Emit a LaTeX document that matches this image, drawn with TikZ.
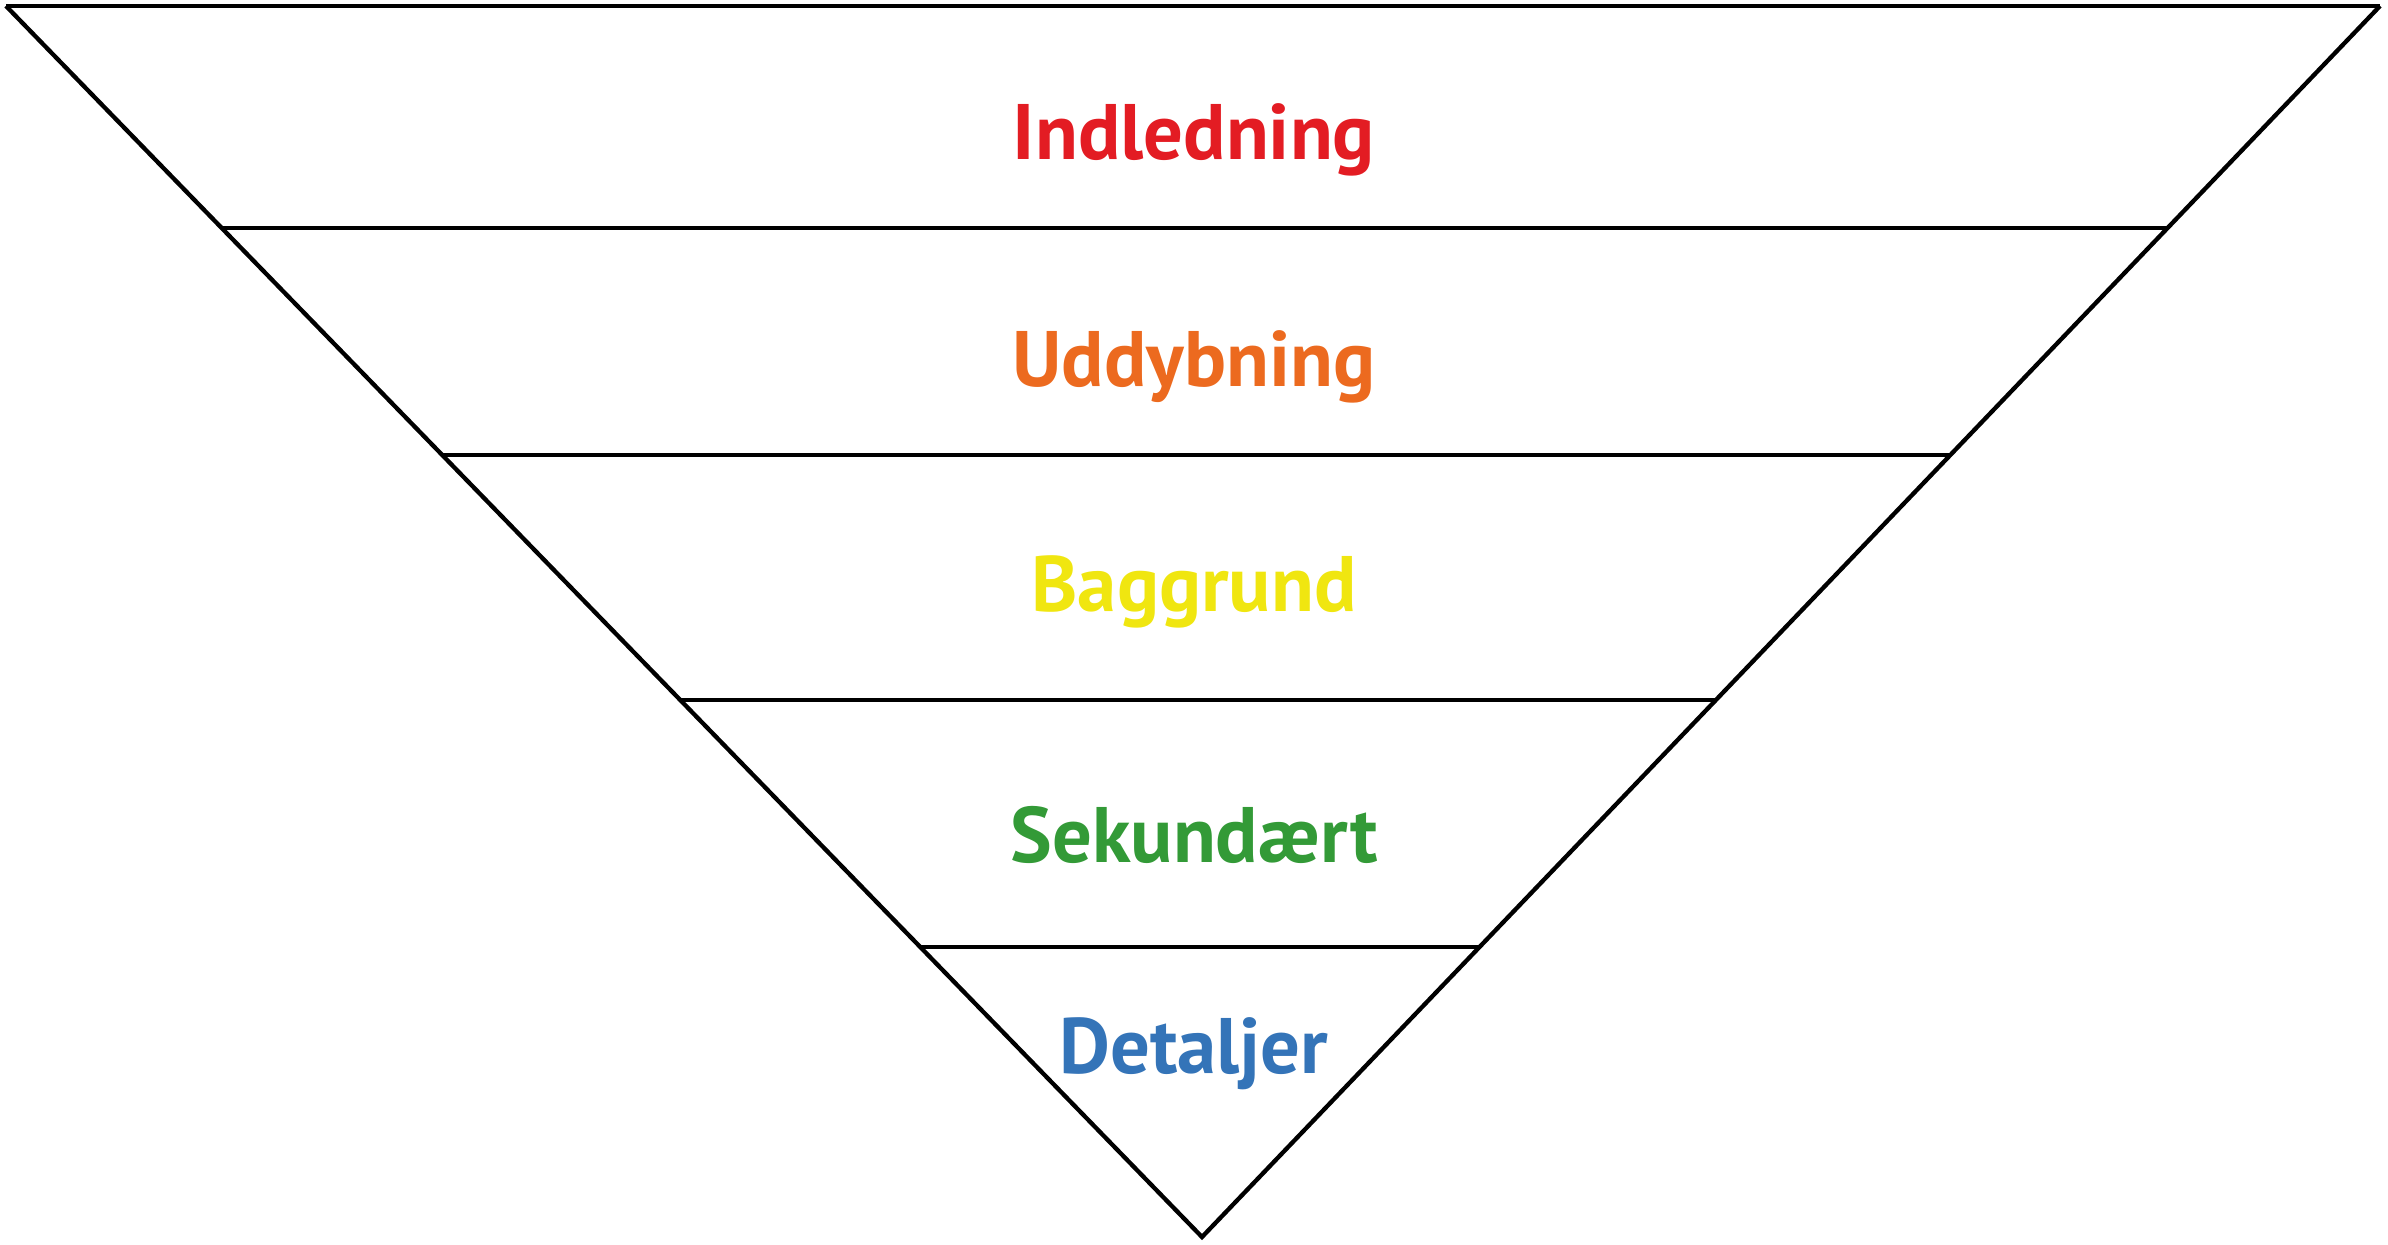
\documentclass[tikz,border=0pt]{standalone}
\usepackage{fontspec}
\setmainfont{PT Sans}
\usepackage{tikz}
\usetikzlibrary{calc}
\definecolor{introred}{RGB}{227,28,35}
\definecolor{deeporange}{RGB}{236,106,31}
\definecolor{backyellow}{RGB}{240,230,16}
\definecolor{secgreen}{RGB}{51,154,55}
\definecolor{detblue}{RGB}{52,116,184}
\tikzstyle{funnel}=[line width=1.3pt, line join=miter]
\tikzstyle{layer}=[anchor=base, inner sep=0pt, font=\bfseries\fontsize{23.6}{25}\selectfont]
\newcommand{\funnelTop}{6}
\newcommand{\funnelTip}{1237}
% cut the funnel at height #2 and name the ends l#1 and r#1
\newcommand{\funnelcut}[2]{
	\pgfmathsetmacro{\t}{(#2-\funnelTop)/(\funnelTip-\funnelTop)}
	\coordinate (l#1) at ($(tl)!\t!(tip)$);
	\coordinate (r#1) at ($(tr)!\t!(tip)$);
	\draw[funnel] (l#1) -- (r#1);
}

\begin{document}
\begin{tikzpicture}[x=0.3pt,y=-0.3pt]
\useasboundingbox (0,0) rectangle (2388,1244);
\coordinate (tl) at (6,\funnelTop);
\coordinate (tr) at (2380,\funnelTop);
\coordinate (tip) at (1202,\funnelTip);
\draw[funnel] (tl) -- (tr);
\draw[funnel] (tl) -- (tip) -- (tr);
\foreach \n/\y in {1/228,2/455,3/700,4/947} {
	\funnelcut{\n}{\y}
}
\node[layer, text=introred] (indledning) at (1194,159) {Indledning};
\node[layer, text=deeporange] (uddybning) at (1194,386) {Uddybning};
\node[layer, text=backyellow] (baggrund) at (1194,611) {Baggrund};
\node[layer, text=secgreen] (sekundaert) at (1194,862) {Sekundært};
\node[layer, text=detblue] (detaljer) at (1194,1073) {Detaljer};
\end{tikzpicture}
\end{document}
